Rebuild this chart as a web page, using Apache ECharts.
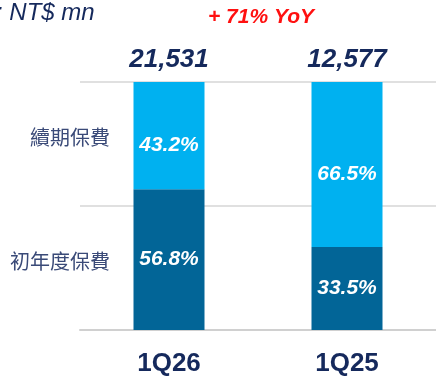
<!DOCTYPE html>
<html>
<head>
<meta charset="utf-8">
<script src="https://cdn.jsdelivr.net/npm/echarts@6/dist/echarts.min.js"></script>
<style>
  html, body { margin: 0; padding: 0; background: #ffffff; }
  #chart { width: 436px; height: 377px; }
</style>
</head>
<body>
<div id="chart"></div>
<script>
// Quarterly premium mix (share of total, %) and totals in NT$ mn
const quarters = ['1Q26', '1Q25'];
const firstYearShare = [56.8, 33.5];
const renewalShare = [43.2, 66.5];
const totals = [21531, 12577];
const seriesNames = ['初年度保費', '續期保費'];
const unitText = ': NT$ mn';
const growthText = '+ 71% YoY';

const navy = '#15295C';
const pctLabel = {
  show: true,
  color: '#ffffff',
  fontFamily: 'Liberation Sans, Arial, sans-serif',
  fontSize: 21,
  fontWeight: 'bold',
  fontStyle: 'italic',
  formatter: p => p.value.toFixed(1) + '%'
};

const chart = echarts.init(document.getElementById('chart'), null, { renderer: 'canvas' });

chart.setOption({
  animation: false,
  grid: { left: 80, width: 361, top: 82, bottom: 43, containLabel: false },
  xAxis: {
    type: 'category',
    data: quarters,
    axisTick: { show: false },
    axisLine: { show: true, lineStyle: { color: '#D0D0D0', width: 2 } },
    axisLabel: {
      color: navy,
      fontFamily: 'Liberation Sans, Arial, sans-serif',
      fontSize: 26,
      fontWeight: 'bold',
      margin: 21
    }
  },
  yAxis: {
    type: 'value',
    min: 0,
    max: 100,
    interval: 50,
    axisLabel: { show: false },
    axisLine: { show: false },
    axisTick: { show: false },
    splitLine: { show: true, lineStyle: { color: '#E0E0E0', width: 2 } }
  },
  series: [
    {
      name: seriesNames[0],
      type: 'bar',
      stack: 'mix',
      barWidth: 71,
      data: firstYearShare,
      itemStyle: { color: '#026597' },
      label: Object.assign({ position: 'inside' }, pctLabel)
    },
    {
      name: seriesNames[1],
      type: 'bar',
      stack: 'mix',
      barWidth: 71,
      data: renewalShare,
      itemStyle: { color: '#00B1F0' },
      label: Object.assign({ position: 'inside', offset: [0, 10] }, pctLabel)
    },
    {
      // total premium written above each bar
      type: 'scatter',
      symbolSize: 0,
      silent: true,
      itemStyle: { opacity: 1 },
      data: totals.map((t, i) => [quarters[i], 100]),
      label: {
        show: true,
        position: 'top',
        distance: 9,
        color: navy,
        opacity: 1,
        fontFamily: 'Liberation Sans, Arial, sans-serif',
        fontSize: 26,
        fontWeight: 'bold',
        fontStyle: 'italic',
        formatter: p => totals[p.dataIndex].toLocaleString('en-US')
      }
    }
  ],
  graphic: [
    {
      type: 'text',
      left: -4,
      top: 1,
      style: {
        text: unitText,
        fill: navy,
        font: 'italic 24px "Liberation Sans", Arial, sans-serif'
      }
    },
    {
      type: 'text',
      left: 208,
      top: 7,
      style: {
        text: growthText,
        fill: '#FF1010',
        font: 'italic bold 21px "Liberation Sans", Arial, sans-serif'
      }
    },
    {
      type: 'text',
      right: 326,
      top: 127,
      style: {
        text: seriesNames[1],
        fill: '#3A4A78',
        font: '20px "Noto Sans CJK TC", sans-serif',
        align: 'right'
      }
    },
    {
      type: 'text',
      right: 326,
      top: 251,
      style: {
        text: seriesNames[0],
        fill: '#3A4A78',
        font: '20px "Noto Sans CJK TC", sans-serif',
        align: 'right'
      }
    }
  ]
});
</script>
</body>
</html>
